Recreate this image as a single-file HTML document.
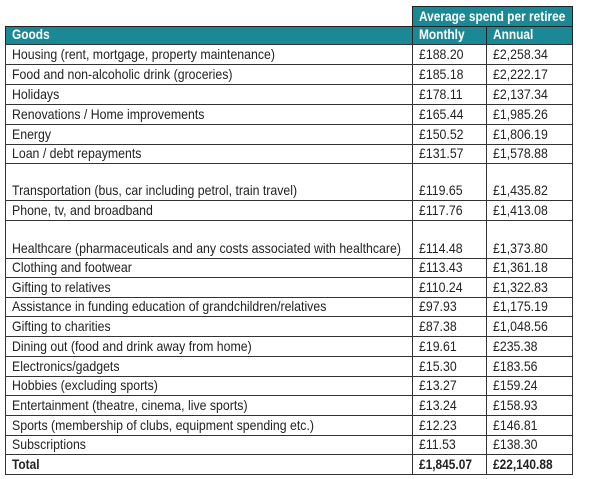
<!DOCTYPE html>
<html><head><meta charset="utf-8"><style>
body{margin:0;width:600px;height:479px;background:#fff;position:relative;overflow:hidden;font-family:"Liberation Sans",sans-serif;}
.c{position:absolute;box-sizing:border-box;border:1px solid #333;font-size:14px;color:#222;padding:0;white-space:nowrap;line-height:15px;overflow:visible;}
.c span{position:absolute;left:6px;bottom:2px;transform:scaleX(0.88);transform-origin:left bottom;}
.h{background:#1b8995;color:#fff;font-weight:bold;border-color:#222;}
.h span{transform:scaleX(0.85);}
.b{font-weight:bold;}
.b span{transform:scaleX(0.85);}
</style></head><body>
<div id="t"></div>
<script>
var rows=[["Housing (rent, mortgage, property maintenance)","£188.20","£2,258.34",44,64],
["Food and non-alcoholic drink (groceries)","£185.18","£2,222.17",64,84],
["Holidays","£178.11","£2,137.34",84,104],
["Renovations / Home improvements","£165.44","£1,985.26",104,124],
["Energy","£150.52","£1,806.19",124,144],
["Loan / debt repayments","£131.57","£1,578.88",144,163],
["Transportation (bus, car including petrol, train travel)","£119.65","£1,435.82",163,200],
["Phone, tv, and broadband","£117.76","£1,413.08",200,220],
["Healthcare (pharmaceuticals and any costs associated with healthcare)","£114.48","£1,373.80",220,258],
["Clothing and footwear","£113.43","£1,361.18",258,277]];
var rest=[["Gifting to relatives","£110.24","£1,322.83"],["Assistance in funding education of grandchildren/relatives","£97.93","£1,175.19"],["Gifting to charities","£87.38","£1,048.56"],["Dining out (food and drink away from home)","£19.61","£235.38"],["Electronics/gadgets","£15.30","£183.56"],["Hobbies (excluding sports)","£13.27","£159.24"],["Entertainment (theatre, cinema, live sports)","£13.24","£158.93"],["Sports (membership of clubs, equipment spending etc.)","£12.23","£146.81"],["Subscriptions","£11.53","£138.30"],["Total","£1,845.07","£22,140.88"]];
var y=277;rest.forEach(function(r,i){var y2=Math.round(277+(i+1)*19.7);rows.push([r[0],r[1],r[2],y,y2]);y=y2;});
var X=[5,412,486,572],h="";
function cell(x1,x2,y1,y2,t,cls){h+='<div class="c '+(cls||'')+'" style="left:'+x1+'px;top:'+y1+'px;width:'+(x2-x1+1)+'px;height:'+(y2-y1+1)+'px"><span>'+t+'</span></div>';}
cell(X[1],X[3],6,26,"Average spend per retiree","h");
cell(X[0],X[1],26,44,"Goods","h");cell(X[1],X[2],26,44,"Monthly","h");cell(X[2],X[3],26,44,"Annual","h");
rows.forEach(function(r,i){var b=i==rows.length-1?"b":"";cell(X[0],X[1],r[3],r[4],r[0],b);cell(X[1],X[2],r[3],r[4],r[1],b);cell(X[2],X[3],r[3],r[4],r[2],b);});
document.getElementById("t").innerHTML=h;
</script>
</body></html>
